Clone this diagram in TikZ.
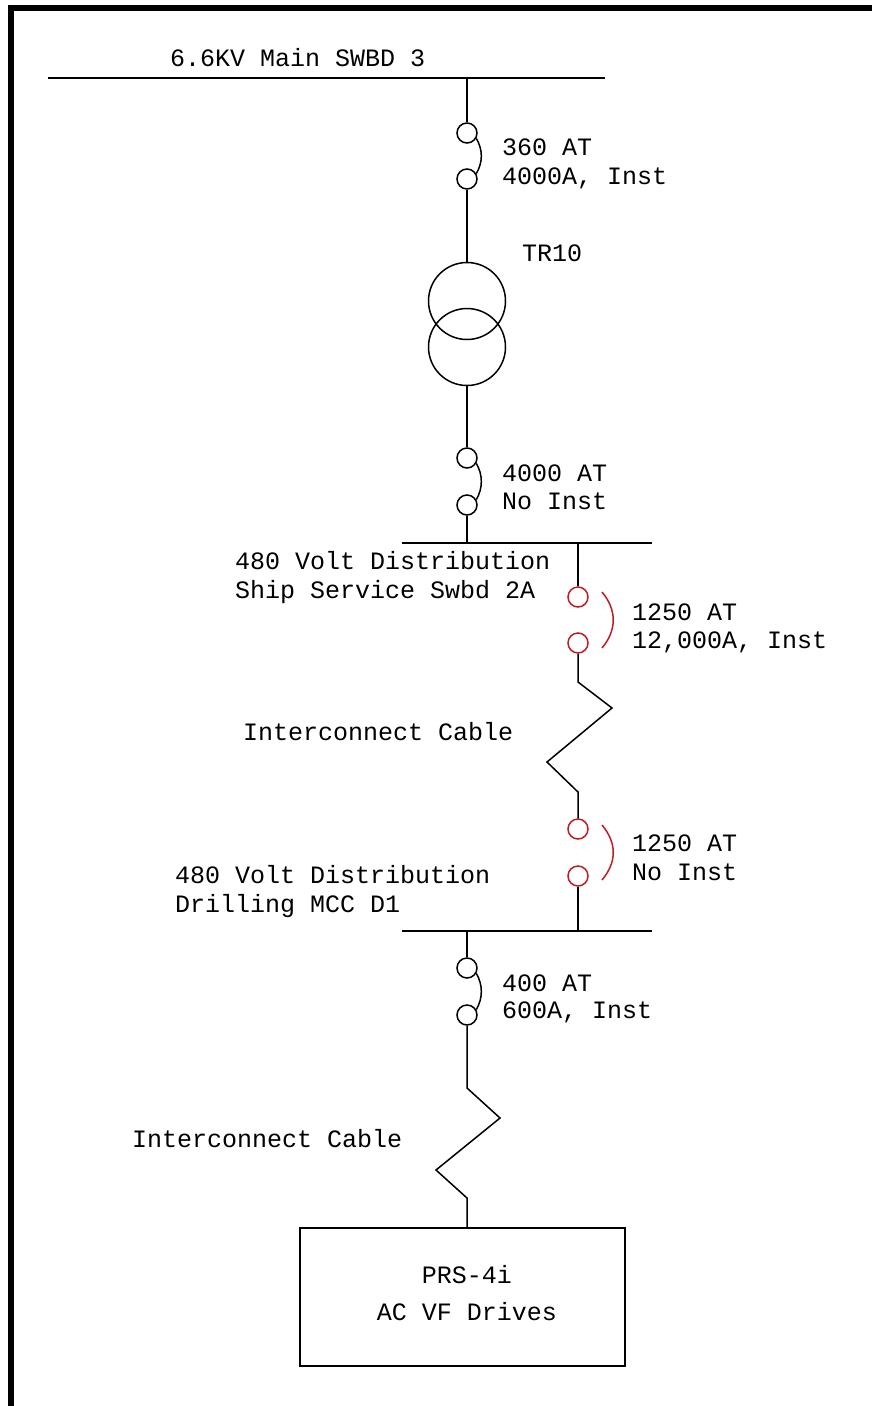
\documentclass[tikz,border=0pt]{standalone}
\usepackage{fontspec}
\setmainfont{Liberation Mono}
\usetikzlibrary{calc}
\definecolor{brkred}{RGB}{190,30,35}
\begin{document}
\begin{tikzpicture}[x=1pt,y=-1pt,
  wire/.style={line width=1.5pt,black},
  txt/.style={anchor=base west,inner sep=0pt,font=\fontsize{25}{29}\selectfont},
  ctxt/.style={anchor=base,inner sep=0pt,font=\fontsize{25}{29}\selectfont},
  cbk/.style={circle,draw,line width=1.5pt,minimum size=20pt,inner sep=0pt},
  rbk/.style={cbk,draw=brkred},
  xfmr/.style={circle,draw,line width=1.5pt,minimum size=77pt,inner sep=0pt},
  rarc/.style={line width=1.5pt,brkred},
  loadbox/.style={rectangle,draw,line width=1.5pt,minimum width=325pt,minimum height=138pt,inner sep=0pt},
]
\useasboundingbox (0,0) rectangle (872,1406);
% frame
\fill[black] (8,5) rectangle (14,1406);
\fill[black] (8,5) rectangle (872,11);

% buses
\coordinate (bus1w) at (48,78);
\coordinate (bus1e) at (605,78);
\coordinate (tap1) at (467,78);
\coordinate (bus2w) at (402,543);
\coordinate (bus2e) at (652,543);
\coordinate (tap2in) at (467,543);
\coordinate (tap2out) at (578,543);
\coordinate (bus3w) at (402,931);
\coordinate (bus3e) at (652,931);
\coordinate (tap3in) at (578,931);
\coordinate (tap3out) at (467,931);
\draw[wire] (bus1w) -- (bus1e);
\draw[wire] (bus2w) -- (bus2e);
\draw[wire] (bus3w) -- (bus3e);

% breaker 1 (black)
\node[cbk] (b1t) at (467,133) {};
\node[cbk] (b1b) at (467,179) {};
\draw[wire] (b1t.-30) .. controls (483,150) and (483,162) .. (b1b.30);
% transformer
\node[xfmr] (trA) at (467,301) {};
\node[xfmr] (trB) at (467,347) {};
% breaker 2 (black)
\node[cbk] (b2t) at (467,458) {};
\node[cbk] (b2b) at (467,505) {};
\draw[wire] (b2t.-30) .. controls (483,475) and (483,488) .. (b2b.30);
% breaker 3 (red)
\node[rbk] (r1t) at (578,597) {};
\node[rbk] (r1b) at (578,643) {};
\draw[rarc] ([shift={(24,-5)}]r1t.center) .. controls ([shift={(39,13)}]r1t.center) and ([shift={(39,-13)}]r1b.center) .. ([shift={(24,5)}]r1b.center);
% breaker 4 (red)
\node[rbk] (r2t) at (578,829) {};
\node[rbk] (r2b) at (578,876) {};
\draw[rarc] ([shift={(24,-4)}]r2t.center) .. controls ([shift={(39,14)}]r2t.center) and ([shift={(39,-14)}]r2b.center) .. ([shift={(24,4)}]r2b.center);
% breaker 5 (black)
\node[cbk] (b3t) at (467,968) {};
\node[cbk] (b3b) at (467,1015) {};
\draw[wire] (b3t.-30) .. controls (483,985) and (483,998) .. (b3b.30);
% load box
\node[loadbox] (load) at (462.5,1297) {};

% connectors
\draw[wire] (tap1) -- (b1t.north);
\draw[wire] (b1b.south) -- (trA.north);
\draw[wire] (trB.south) -- (b2t.north);
\draw[wire] (b2b.south) -- (tap2in);
\draw[wire] (tap2out) -- (r1t.north);
\coordinate (z1s) at (578,682);
\coordinate (z1e) at (578,792);
\draw[wire] (r1b.south) -- (z1s) -- ++(34,26) -- ++(-65,54) -- (z1e) -- (r2t.north);
\draw[wire] (r2b.south) -- (tap3in);
\draw[wire] (tap3out) -- (b3t.north);
\coordinate (z2s) at (467,1088);
\coordinate (z2e) at (467,1198);
\draw[wire] (b3b.south) -- (z2s) -- ++(33,30) -- ++(-64,52) -- (z2e) -- (z2e |- load.north);

% labels
\node[txt] (t1) at (170,66) {6.6KV Main SWBD 3};
\node[txt] (t2) at (502,155) {360 AT};
\node[txt] (t3) at (502,184) {4000A, Inst};
\node[txt] (t4) at (522,261) {TR10};
\node[txt] (t5) at (502,481) {4000 AT};
\node[txt] (t6) at (502,509) {No Inst};
\node[txt] (t7) at (235,569) {480 Volt Distribution};
\node[txt] (t8) at (235,598) {Ship Service Swbd 2A};
\node[txt] (t9) at (632,620) {1250 AT};
\node[txt] (t10) at (632,648) {12,000A, Inst};
\node[txt] (t11) at (243,740) {Interconnect Cable};
\node[txt] (t12) at (632,851) {1250 AT};
\node[txt] (t13) at (632,880) {No Inst};
\node[txt] (t14) at (175,883) {480 Volt Distribution};
\node[txt] (t15) at (175,912) {Drilling MCC D1};
\node[txt] (t16) at (502,991) {400 AT};
\node[txt] (t17) at (502,1018) {600A, Inst};
\node[txt] (t18) at (132,1147) {Interconnect Cable};
\node[ctxt] (t19) at (467,1283) {PRS-4i};
\node[ctxt] (t20) at (467,1320) {AC VF Drives};
\end{tikzpicture}
\end{document}
